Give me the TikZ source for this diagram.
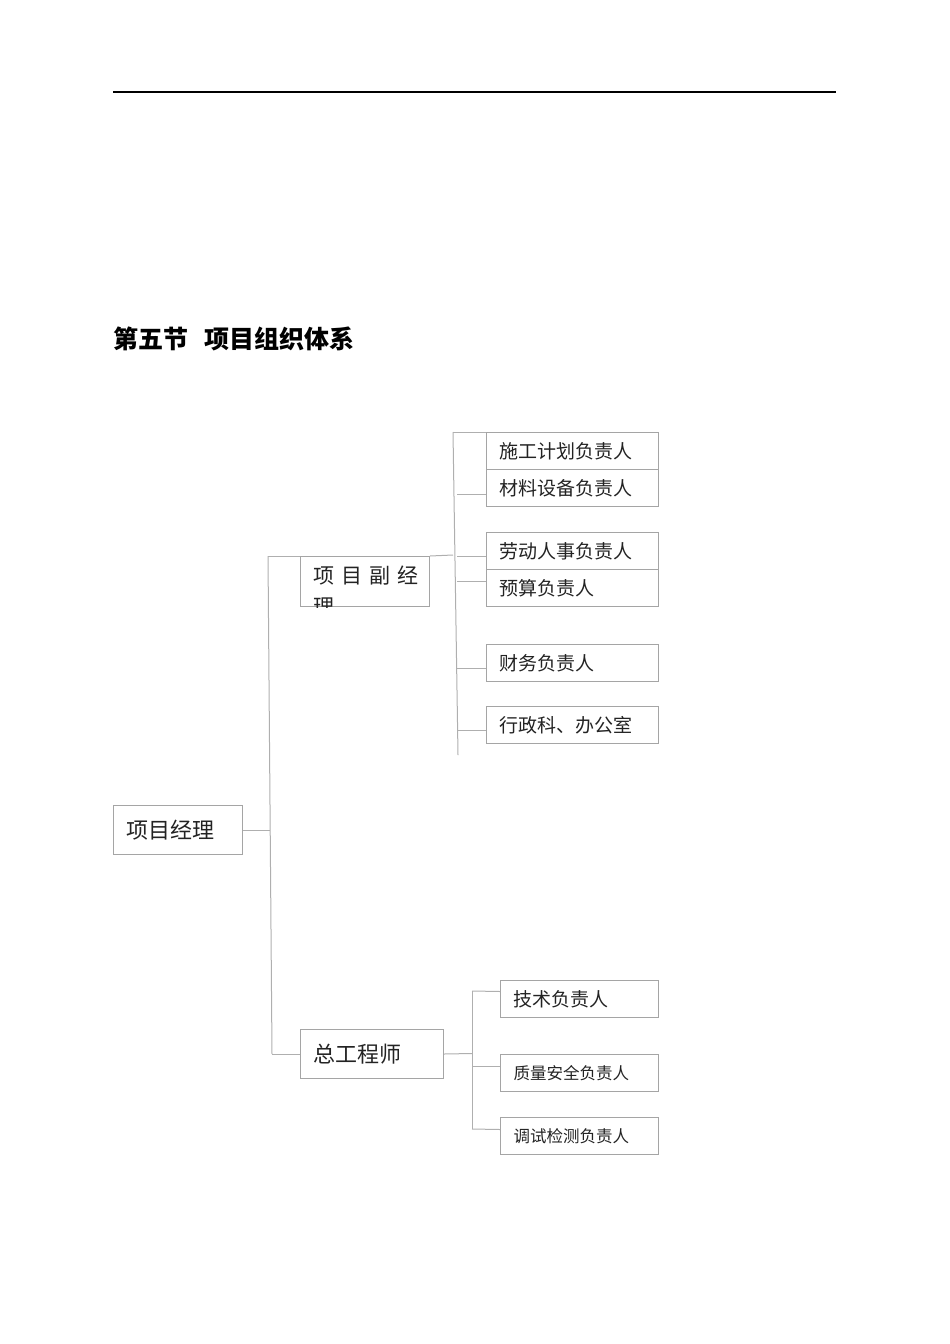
\documentclass[tikz,border=0pt]{standalone}
\usepackage{fontspec}
\setmainfont{Noto Sans CJK SC}
\definecolor{ln}{RGB}{175,175,175}
\definecolor{bx}{RGB}{165,165,165}
\definecolor{txt}{RGB}{35,35,35}
\begin{document}
\begin{tikzpicture}[x=1pt,y=-1pt,
  box/.style={draw=bx, line width=1pt, anchor=north west, inner xsep=13pt, inner ysep=0pt, align=left, text=txt, font=\fontsize{19}{23}\selectfont},
  bigbox/.style={box, font=\fontsize{22}{26}\selectfont},
  smallbox/.style={box, inner xsep=13pt, font=\fontsize{16.5}{20}\selectfont},
  conn/.style={draw=ln, line width=1pt}]
\useasboundingbox (0,0) rectangle (950,1344);
\draw[line width=1.8pt] (113,92) -- (836,92);
\node[anchor=west, inner sep=0pt, font=\fontsize{25}{29}\selectfont\bfseries] (title) at (113,339) {第五节\hspace{16pt}项目组织体系};

% level 1
\node[bigbox, minimum height=49pt, text width=103pt] (pm) at (113,805) {项目经理};
% level 2
\node[box, minimum height=50pt, minimum width=129pt] (vm) at (300,556) {};
\begin{scope}
  \clip (vm.south west) rectangle (vm.north east);
  \node[anchor=north west, inner sep=0pt, align=left, text=txt, font=\fontsize{21}{31}\selectfont]
    (vmtext) at ([xshift=13pt,yshift=-10pt]vm.north west) {项\hspace{7pt}目\hspace{7pt}副\hspace{7pt}经\\理};
\end{scope}
\node[bigbox, minimum height=49pt, text width=117pt] (ce) at (300,1029) {总工程师};

% level 3 under vice manager
\node[box, minimum height=37pt, text width=146pt] (s1) at (486,432) {施工计划负责人};
\node[box, minimum height=37pt, text width=146pt] (s2) at (486,469) {材料设备负责人};
\node[box, minimum height=37pt, text width=146pt] (s3) at (486,532) {劳动人事负责人};
\node[box, minimum height=37pt, text width=146pt] (s4) at (486,569) {预算负责人};
\node[box, minimum height=37pt, text width=146pt] (s5) at (486,644) {财务负责人};
\node[box, minimum height=37pt, text width=146pt] (s6) at (486,706) {行政科、办公室};

% level 3 under chief engineer
\node[box, minimum height=37pt, text width=132pt] (t1) at (500,980) {技术负责人};
\node[smallbox, minimum height=37pt, text width=132pt] (t2) at (500,1054) {质量安全负责人};
\node[smallbox, minimum height=37pt, text width=132pt] (t3) at (500,1117) {调试检测负责人};

% bus 1
\coordinate (b1t) at (268,556);
\coordinate (b1b) at (272,1054);
\coordinate (b1m) at (270,830);
\draw[conn] (b1t) -- (b1b);
\draw[conn] (pm.east) -- (b1m);
\draw[conn] (b1t) -- (vm.north west);
\draw[conn] (b1b) -- (ce.west);

% bus 2
\coordinate (b2t) at (453,432);
\coordinate (b2b) at (458,755);
\coordinate (b2j) at (453,555);
\draw[conn] (b2t) -- (b2b);
\draw[conn] (vm.north east) -- (b2j);
\draw[conn] (b2t) -- (s1.north west);
\draw[conn] ([yshift=-6.5pt]s2.west) -- +(-29,0);
\draw[conn] ([yshift=-5.5pt]s3.west) -- +(-29,0);
\draw[conn] ([yshift=6.5pt]s4.west) -- +(-29,0);
\draw[conn] ([yshift=-5.5pt]s5.west) -- +(-29,0);
\draw[conn] ([yshift=-5.5pt]s6.west) -- +(-29,0);

% bus 3
\coordinate (b3t) at (472,991);
\coordinate (b3b) at (472,1129);
\coordinate (b3m) at (472,1053.5);
\draw[conn] (b3t) -- (b3b);
\draw[conn] (ce.east) -- (b3m);
\draw[conn] (b3t) -- ([yshift=7.5pt]t1.west);
\draw[conn] ([yshift=6.5pt]t2.west) -- +(-28,0);
\draw[conn] ([yshift=6.5pt]t3.west) -- (b3b);
\end{tikzpicture}
\end{document}
